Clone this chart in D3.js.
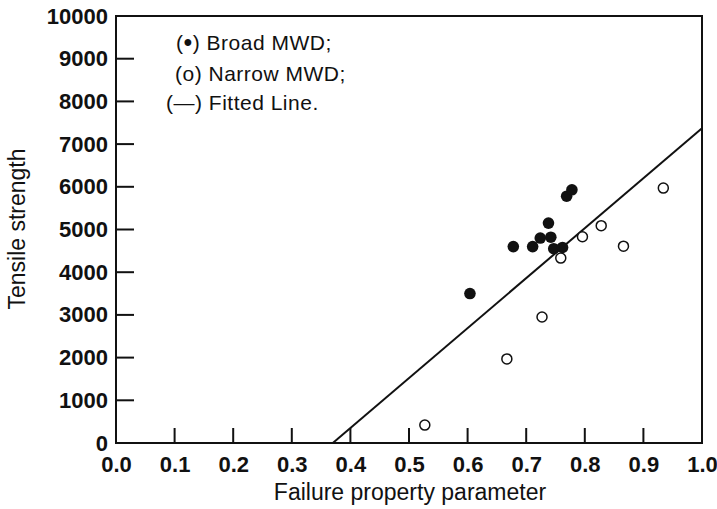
<!DOCTYPE html>
<html><head><meta charset="utf-8">
<script src="https://cdn.jsdelivr.net/npm/d3@7"></script>
<style>
body{margin:0;background:#fff;}
text{font-family:"Liberation Sans",Arial,sans-serif;fill:#111;}
</style></head>
<body><svg id="c" width="717" height="509"></svg>
<script>
const broadX = [0.604, 0.678, 0.711, 0.724, 0.738, 0.742, 0.747, 0.762, 0.769, 0.778];
const broadY = [3500, 4600, 4600, 4800, 5150, 4820, 4550, 4580, 5780, 5930];
const narrowX = [0.527, 0.667, 0.727, 0.759, 0.796, 0.828, 0.866, 0.934];
const narrowY = [420, 1970, 2950, 4330, 4830, 5090, 4610, 5970];
const fitX = [0.37, 1.0];
const fitY = [0, 7370];
const xTicks = [0.0,0.1,0.2,0.3,0.4,0.5,0.6,0.7,0.8,0.9,1.0];
const yTicks = [0,1000,2000,3000,4000,5000,6000,7000,8000,9000,10000];
const legendSymbols = ["\u2022", "o", "\u2014"];
const legendLabels = ["Broad MWD;", "Narrow MWD;", "Fitted Line."];
const xTitle = "Failure property parameter";
const yTitle = "Tensile strength";

const svg = d3.select("#c");
const x = d3.scaleLinear().domain([0,1]).range([116,702]);
const y = d3.scaleLinear().domain([0,10000]).range([443,16]);

// frame
svg.append("rect").attr("x",x(0)).attr("y",y(10000)).attr("width",x(1)-x(0)).attr("height",y(0)-y(10000))
  .attr("fill","none").attr("stroke","#111").attr("stroke-width",2);

// x ticks (inward)
const xa = svg.append("g").attr("transform",`translate(0,${y(0)})`)
  .call(d3.axisBottom(x).tickValues(xTicks).tickFormat(d3.format(".1f")).tickSize(0).tickPadding(10));
xa.select(".domain").remove();
xa.selectAll("text").attr("font-size",22).attr("font-weight","bold").attr("font-family","Liberation Sans, Arial, sans-serif").attr("fill","#111").attr("dy","0.85em");
svg.append("g").selectAll("line").data(xTicks.filter(d=>d>0&&d<1)).join("line")
  .attr("x1",d=>x(d)).attr("x2",d=>x(d)).attr("y1",y(0)).attr("y2",y(0)-15)
  .attr("stroke","#111").attr("stroke-width",2);

// y ticks
const ya = svg.append("g").attr("transform",`translate(${x(0)},0)`)
  .call(d3.axisLeft(y).tickValues(yTicks).tickFormat(d3.format("d")).tickSize(0).tickPadding(8));
ya.select(".domain").remove();
ya.selectAll("text").attr("font-size",22).attr("font-weight","bold").attr("font-family","Liberation Sans, Arial, sans-serif").attr("fill","#111");
svg.append("g").selectAll("line").data(yTicks.filter(d=>d>0&&d<10000)).join("line")
  .attr("x1",x(0)).attr("x2",x(0)+18).attr("y1",d=>y(d)).attr("y2",d=>y(d))
  .attr("stroke","#111").attr("stroke-width",2);

// fitted line
svg.append("line").attr("x1",x(fitX[0])).attr("y1",y(fitY[0])).attr("x2",x(fitX[1])).attr("y2",y(fitY[1]))
  .attr("stroke","#111").attr("stroke-width",2);

// points
svg.append("g").selectAll("circle").data(narrowX.map((v,i)=>[v,narrowY[i]])).join("circle")
  .attr("cx",d=>x(d[0])).attr("cy",d=>y(d[1])).attr("r",5)
  .attr("fill","#fff").attr("stroke","#111").attr("stroke-width",1.5);
svg.append("g").selectAll("circle").data(broadX.map((v,i)=>[v,broadY[i]])).join("circle")
  .attr("cx",d=>x(d[0])).attr("cy",d=>y(d[1])).attr("r",5.8).attr("fill","#111");

// legend text
const symX = [176,175,166], ly = [50,81,110];
const lg = svg.append("g");
legendLabels.forEach((lab,i)=>{
  const t = lg.append("text").attr("x",symX[i]).attr("y",ly[i]).attr("font-size",21).attr("letter-spacing",0.5);
  t.append("tspan").text("(");
  const s = t.append("tspan").text(legendSymbols[i]);
  if(i===0){ s.attr("font-size",25).attr("dy",1); t.append("tspan").attr("dy",-1).text(") " + lab); }
  else t.append("tspan").text(") " + lab);
});

// titles
svg.append("text").attr("x",410).attr("y",500).attr("text-anchor","middle").attr("font-size",23).text(xTitle);
svg.append("text").attr("transform","translate(25,229) rotate(-90)").attr("text-anchor","middle").attr("font-size",23).text(yTitle);
</script></body></html>
